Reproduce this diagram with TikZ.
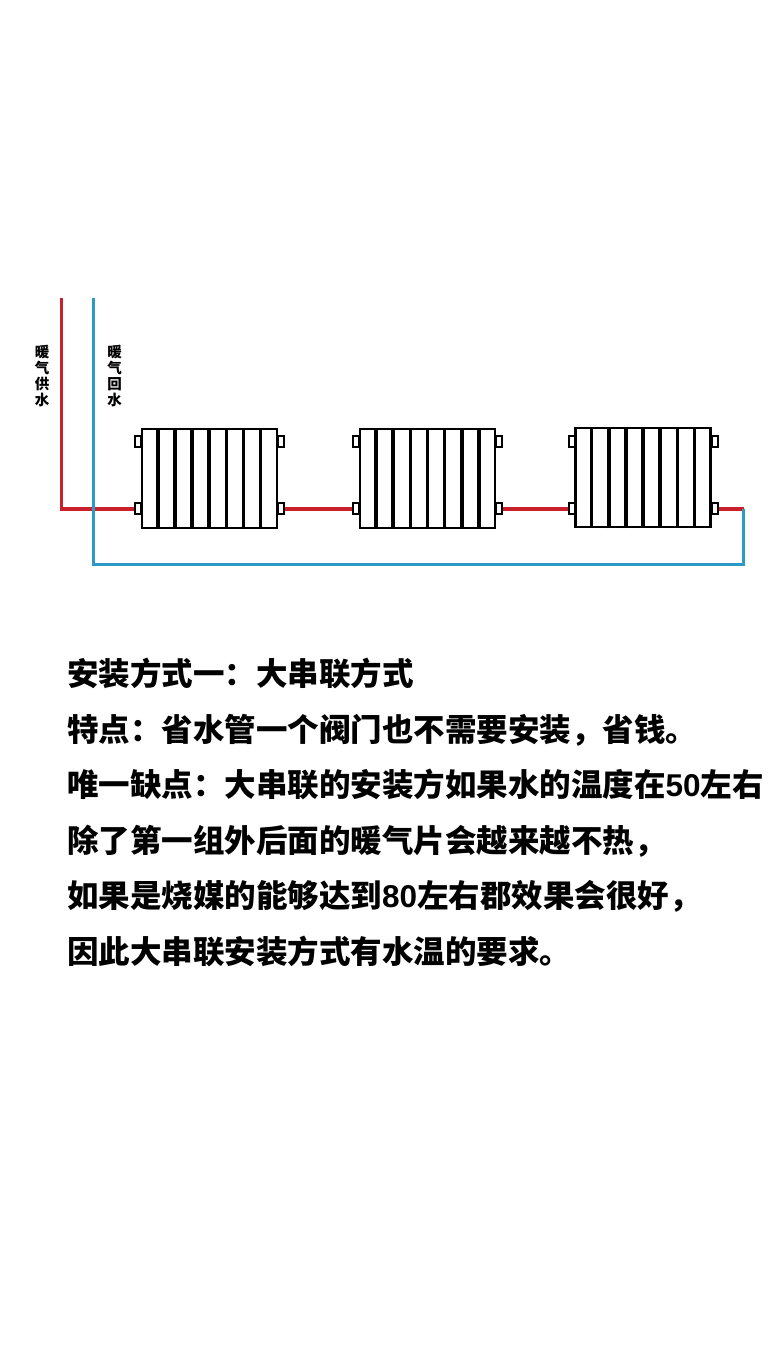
\documentclass[tikz,border=0pt]{standalone}
\usepackage{fontspec}
\newfontfamily\cjk{Noto Sans CJK SC}
\newfontfamily\numfont{Liberation Sans}
\usetikzlibrary{calc}
\definecolor{supplyred}{HTML}{C9202C}
\definecolor{returnblue}{HTML}{2B9AC6}
\tikzset{
    radbox/.style={draw=black, line width=2.2pt, fill=white, inner sep=0pt, minimum width=135pt, minimum height=99pt},
    lug/.style={draw=black, line width=2pt, fill=white, inner sep=0pt, minimum width=6pt, minimum height=11pt},
    fin/.style={black, line width=3.6pt},
    redpipe/.style={supplyred, line width=3.6pt},
    bluepipe/.style={returnblue, line width=3pt},
    sidelabel/.style={inner sep=0pt, align=center, font=\cjk\bfseries\fontsize{14.5}{15.7}\selectfont},
    textline/.style={anchor=base west, inner sep=0pt, font=\cjk\bfseries\fontsize{31.5}{36}\selectfont}
}
\begin{document}
\begin{tikzpicture}[x=1pt, y=-1pt]
    \useasboundingbox (0,0) rectangle (780,1362);

    \coordinate (redtop) at (61.5,298); \coordinate (redcorner) at (61.5,508.7);
    \coordinate (bluetop) at (93,298); \coordinate (bluecorner) at (93,564);
    \coordinate (bluefar) at (743.5,564); \coordinate (blueend) at (743.5,508.7);

    \node[radbox] (rad1) at (209.2,478.2) {}; \node[radbox] (rad2) at (427.5,478.2) {}; \node[radbox] (rad3) at (643,477.8) {};
    \foreach \rad in {rad1,rad2,rad3}
        \foreach \i in {1,...,7}
            \draw[fin] ($(\rad.south west)!\i/8!(\rad.south east)$) -- ($(\rad.north west)!\i/8!(\rad.north east)$);

    \node[lug] (lug1a) at (137.8,441.5) {}; \node[lug] (lug1b) at (137.8,508.7) {}; \node[lug] (lug1c) at (281,441.5) {}; \node[lug] (lug1d) at (281,508.7) {};
    \node[lug] (lug2a) at (355.5,441.5) {}; \node[lug] (lug2b) at (355.5,508.7) {}; \node[lug] (lug2c) at (499,441.5) {}; \node[lug] (lug2d) at (499,508.7) {};
    \node[lug] (lug3a) at (571.5,441.3) {}; \node[lug] (lug3b) at (571.5,508.7) {}; \node[lug] (lug3c) at (714.8,441.8) {}; \node[lug] (lug3d) at (714.8,508.7) {};

    \draw[redpipe] (redtop) -- (redcorner) -- (lug1b.west);
    \draw[redpipe] (lug1d.east) -- (lug2b.west);
    \draw[redpipe] (lug2d.east) -- (lug3b.west);
    \draw[redpipe] (lug3d.east) -- (blueend);
    \draw[bluepipe] (bluetop) -- (bluecorner) -- (bluefar) -- (blueend);

    \node[sidelabel] (supply) at (42,376) {暖\\气\\供\\水};
    \node[sidelabel] (return) at (114.5,376) {暖\\气\\回\\水};

    \node[textline] (line1) at (67,685) {安装方式一：大串联方式};
    \node[textline] (line2) at (67,741) {特点：省水管一个阀门也不需要安装，省钱。};
    \node[textline] (line3) at (67,796.5) {唯一缺点：大串联的安装方如果水的温度在{\numfont 50}左右};
    \node[textline] (line4) at (67,852) {除了第一组外后面的暖气片会越来越不热，};
    \node[textline] (line5) at (67,907.5) {如果是烧媒的能够达到{\numfont 80}左右郡效果会很好，};
    \node[textline] (line6) at (67,963) {因此大串联安装方式有水温的要求。};
\end{tikzpicture}
\end{document}
